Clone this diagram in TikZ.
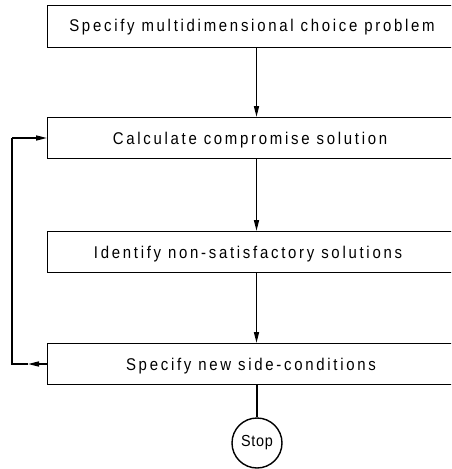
\documentclass[tikz,border=0pt]{standalone}
\usepackage{fontspec}
\setmainfont{Liberation Sans}
\newfontfamily\flowfont[LetterSpace=16,FakeStretch=0.88]{Liberation Sans}
\newfontfamily\stopfont[LetterSpace=4,FakeStretch=0.9]{Liberation Sans}
\usetikzlibrary{arrows.meta}
\begin{document}
\begin{tikzpicture}[x=1pt,y=-1pt,
  line width=1.4pt,
  stepbox/.style={draw, rectangle, anchor=north west, inner sep=0pt,
    minimum width=420pt, minimum height=#1},
  steptext/.style={anchor=base, inner sep=0pt, font=\flowfont\fontsize{17}{19}\selectfont},
  arr/.style={-{Triangle[length=11pt,width=5pt]}}]
  \useasboundingbox (0,0) rectangle (451,469);
  \clip (0,0) rectangle (451,469);

  % process boxes (they run off the right edge)
  \node[stepbox=42pt] (b1) at (47,5) {};
  \node[stepbox=41pt] (b2) at (47,117) {};
  \node[stepbox=41pt] (b3) at (47,231) {};
  \node[stepbox=41pt] (b4) at (47,343) {};

  \node[steptext] (t1) at (252,31) {Specify multidimensional choice problem};
  \node[steptext] (t2) at (250,144) {Calculate compromise solution};
  \node[steptext] (t3) at (248,258) {Identify non-satisfactory solutions};
  \node[steptext] (t4) at (251,370) {Specify new side-conditions};

  % stop terminal
  \node[draw, circle, minimum size=50pt, inner sep=0pt,
        font=\stopfont\fontsize{16}{18}\selectfont] (stop) at (257,443) {Stop};

  % main flow
  \coordinate (x1) at (256.5,47);
  \coordinate (x2) at (256.5,158);
  \coordinate (x3) at (256.5,272);
  \coordinate (x4) at (257,384);
  \draw[arr] (x1) -- (x1 |- b2.north);
  \draw[arr] (x2) -- (x2 |- b3.north);
  \draw[arr] (x3) -- (x3 |- b4.north);
  \draw (x4) -- (stop.north);

  % feedback loop
  \coordinate (m4) at (28,364);
  \coordinate (c4) at (12,364);
  \coordinate (c2) at (12,138);
  \draw[arr] (b4.west |- m4) -- (m4);
  \draw (m4) -- (c4) -- (c2);
  \draw[arr] (c2) -- (b2.west |- c2);
\end{tikzpicture}
\end{document}
